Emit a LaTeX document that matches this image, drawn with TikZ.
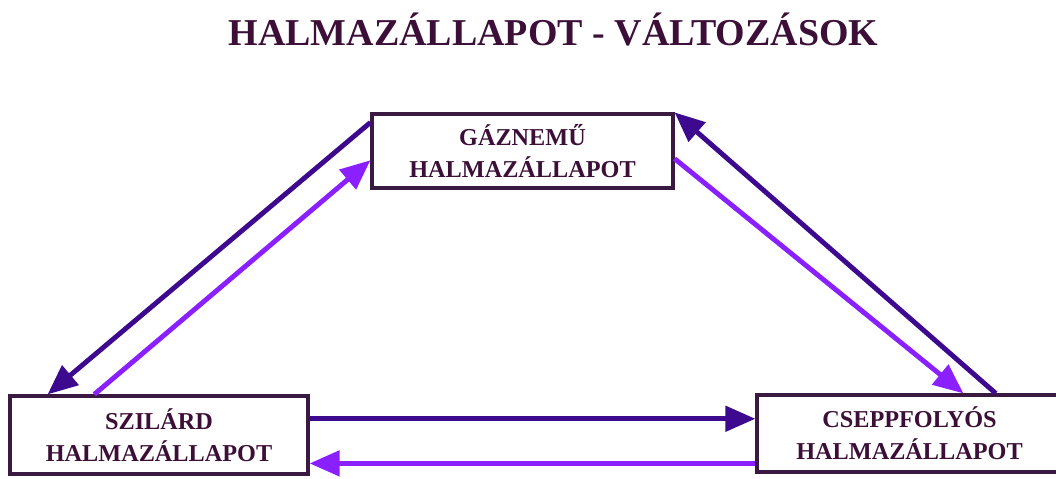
\documentclass[tikz,border=0pt]{standalone}
\usepackage{fontspec}
\setmainfont{Liberation Serif}
\usetikzlibrary{arrows.meta,calc}
\definecolor{sotet}{HTML}{3D0A8F}
\definecolor{vilagos}{HTML}{8A1FFF}
\definecolor{keret}{HTML}{3A1A40}
\definecolor{betu}{HTML}{3C0F38}

\begin{document}
\begin{tikzpicture}[
    allapot/.style={draw=keret,line width=1.8pt,fill=white,align=center,
      inner sep=0pt,text=betu,font=\bfseries\fontsize{13.8}{18}\selectfont},
    nyil/.style={line width=2.8pt,-{Triangle[length=0.6cm,width=0.5cm]}}]
  \useasboundingbox (0,0) rectangle (21.12,9.58);
      \node[text=betu,font=\bfseries\fontsize{21.6}{24}\selectfont] (cim) at (11.07,8.98) {HALMAZÁLLAPOT - VÁLTOZÁSOK};
      \node[allapot,minimum width=6.02cm,minimum height=1.48cm] (gaz) at (10.45,6.56) {GÁZNEMŰ\\HALMAZÁLLAPOT};
      \node[allapot,minimum width=5.96cm,minimum height=1.56cm] (szilard) at (3.18,0.88) {SZILÁRD\\HALMAZÁLLAPOT};
      \node[allapot,minimum width=6.1cm,minimum height=1.54cm] (cseppf) at (18.19,0.91) {CSEPPFOLYÓS\\HALMAZÁLLAPOT};
    \coordinate (sz1) at ($(szilard.north east)!0.3!(szilard.south east)$);
    \coordinate (sz2) at ($(szilard.north east)!0.85!(szilard.south east)$);
    \draw[nyil,sotet] ($(gaz.north west)!0.13!(gaz.south west)$) -- ($(szilard.north west)!0.13!(szilard.north east)$);
    \draw[nyil,vilagos] ($(szilard.north west)!0.285!(szilard.north east)$) -- ($(gaz.north west)!0.62!(gaz.south west)$);
    \draw[nyil,vilagos] ($(gaz.north east)!0.6!(gaz.south east)$) -- ($(cseppf.north west)!0.675!(cseppf.north east)$);
    \draw[nyil,sotet] ($(cseppf.north west)!0.78!(cseppf.north east)$) -- (gaz.north east);
    \draw[nyil,sotet] (sz1) -- (sz1 -| cseppf.west);
    \draw[nyil,vilagos] (sz2 -| cseppf.west) -- (sz2);
    \end{tikzpicture}
\end{document}
